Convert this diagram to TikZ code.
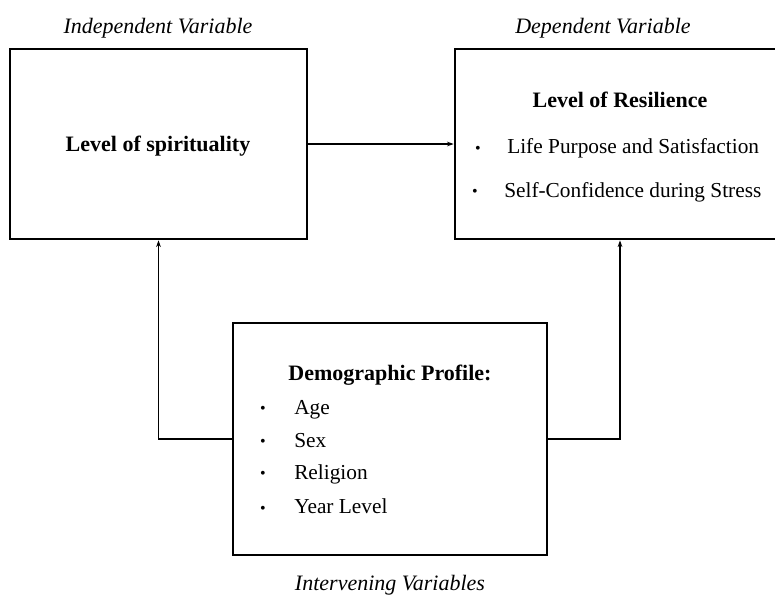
\documentclass[tikz,border=0pt]{standalone}
\usepackage{fontspec}
\setmainfont{Liberation Serif}
\usepackage{tikz}
\usetikzlibrary{arrows.meta,positioning,calc}

\begin{document}
\begin{tikzpicture}[x=0.75pt,y=-0.75pt,
    varbox/.style={draw, line width=2pt, rectangle, inner sep=0pt},
    varlabel/.style={font=\fontsize{16.5}{20}\selectfont\itshape, anchor=base, inner sep=0pt},
    boxtitle/.style={font=\fontsize{16.5}{20}\selectfont\bfseries, anchor=base, inner sep=0pt},
    itemtext/.style={font=\fontsize{16}{20}\selectfont, anchor=base west, inner sep=0pt},
    dotmark/.style={font=\fontsize{12}{14}\selectfont, inner sep=0pt},
    conn/.style={-{Stealth[length=5pt,width=3.5pt]}, line width=1pt}]
    \useasboundingbox (0,0) rectangle (775,594);

    % Boxes
    \node[varbox, minimum width=222.75pt, minimum height=142.5pt] (indep) at (158.5,144) {};
    \node[varbox, minimum width=247.5pt, minimum height=142.5pt] (dep) at (620,144) {};
    \node[varbox, minimum width=235.5pt, minimum height=174pt] (demo) at (390,439) {};

    % Headings above and below
    \node[varlabel] (indeplab) at (158,33) {Independent Variable};
    \node[varlabel] (deplab) at (603,33) {Dependent Variable};
    \node[varlabel] (demolab) at (390,590) {Intervening Variables};

    % Independent variable
    \node[boxtitle] (spirit) at (158,151) {Level of spirituality};

    % Dependent variable
    \node[boxtitle] (resil) at (620,107) {Level of Resilience};
    \node[dotmark] (d1) at (478,150) {\textbullet};
    \node[itemtext] (life) at (507,153) {Life Purpose and Satisfaction};
    \node[dotmark] (d2) at (475,193) {\textbullet};
    \node[itemtext] (conf) at (504,197) {Self-Confidence during Stress};

    % Intervening variables
    \node[boxtitle] (profile) at (390,380) {Demographic Profile:};
    \node[dotmark] (b1) at (263,410) {\textbullet};
    \node[itemtext] (age) at (294,414) {Age};
    \node[dotmark] (b2) at (263,443) {\textbullet};
    \node[itemtext] (sex) at (294,447) {Sex};
    \node[dotmark] (b3) at (263,475) {\textbullet};
    \node[itemtext] (relig) at (294,479) {Religion};
    \node[dotmark] (b4) at (263,510) {\textbullet};
    \node[itemtext] (year) at (294,513) {Year Level};

    % Connectors
    \draw[conn] (indep) -- (dep);
    \draw[conn] (demo.west) -| (indep.south);
    \draw[conn] (demo.east) -| (dep.south);
\end{tikzpicture}
\end{document}
